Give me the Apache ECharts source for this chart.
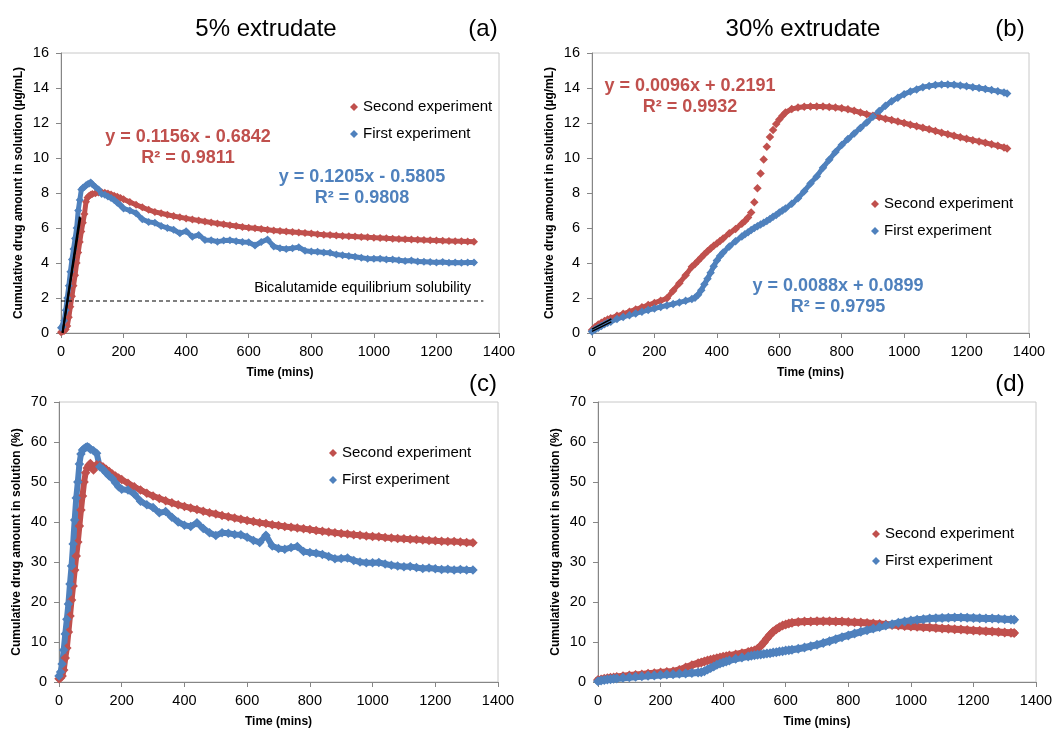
<!DOCTYPE html>
<html>
<head>
<meta charset="utf-8">
<script src="https://cdn.jsdelivr.net/npm/echarts@6/dist/echarts.min.js"></script>
<style>
  html, body { margin: 0; padding: 0; background: #fff; }
  #chart { width: 1060px; height: 729px; }
</style>
</head>
<body>
<div id="chart"></div>
<script>
// ---------- DATA ----------
// Time points (mins) for the 5% extrudate panels (a) and (c)
const timeA = [0,5,10,15,20,25,30,35,40,45,50,55,60,65,70,75,80,85,90,95,100,
  110,120,130,140,150,160,170,180,190,200,
  220,240,260,280,300,320,340,360,380,400,420,440,460,480,500,520,540,560,580,600,
  620,640,660,680,700,720,740,760,780,800,820,840,860,880,900,920,940,960,980,1000,
  1020,1040,1060,1080,1100,1120,1140,1160,1180,1200,1220,1240,1260,1280,1300,1320];

// Panel (a): cumulative drug amount (µg/mL)
const a_second = [0.05,0.08,0.12,0.2,0.4,0.9,1.5,2.1,2.7,3.3,4.0,4.6,5.2,5.8,6.3,6.8,7.5,7.75,7.85,7.9,7.95,
  7.98,8.03,8.05,8.02,7.97,7.91,7.85,7.79,7.72,7.64,
  7.48,7.33,7.18,7.04,6.92,6.84,6.76,6.68,6.61,6.55,6.49,6.43,6.37,6.31,6.26,6.21,6.16,6.11,6.06,6.02,
  5.98,5.94,5.9,5.86,5.83,5.8,5.77,5.74,5.71,5.68,5.65,5.62,5.6,5.57,5.55,5.53,5.51,5.49,5.47,5.45,
  5.43,5.41,5.39,5.37,5.36,5.34,5.33,5.31,5.3,5.29,5.27,5.26,5.25,5.24,5.23,5.21];
const a_first = [0.3,0.35,0.7,1.3,2.0,2.7,3.5,4.2,4.8,5.4,6.0,7.0,7.6,8.2,8.3,8.35,8.45,8.5,8.55,8.6,8.5,
  8.35,8.2,7.95,7.9,7.8,7.72,7.6,7.45,7.3,7.12,
  7.0,6.85,6.5,6.35,6.3,6.12,6.0,5.9,5.7,5.82,5.5,5.6,5.32,5.3,5.22,5.28,5.3,5.25,5.2,5.18,
  5.0,5.2,5.35,4.95,4.85,4.8,4.85,4.9,4.7,4.66,4.64,4.6,4.58,4.48,4.45,4.4,4.36,4.3,4.25,4.24,
  4.25,4.2,4.2,4.16,4.12,4.14,4.08,4.07,4.06,4.03,4.06,4.02,4.03,4.01,4.03,4.03];

// Panel (c): cumulative drug amount (%)
const c_second = [0.8,1.0,1.5,3.0,6.0,8.5,12.5,16.5,20.5,24.0,28.0,31.5,35.0,39.0,43.0,46.5,50.0,52.3,53.5,54.2,54.6,
  53.0,54.3,54.2,53.8,53.2,52.6,52.0,51.5,51.0,50.6,
  49.7,48.8,48.0,47.2,46.5,45.9,45.3,44.8,44.3,43.9,43.5,43.1,42.7,42.3,42.0,41.6,41.3,41.0,40.7,40.4,
  40.1,39.8,39.6,39.3,39.1,38.9,38.7,38.5,38.3,38.1,37.9,37.7,37.5,37.3,37.1,37.0,36.8,36.7,36.5,36.4,
  36.3,36.1,36.0,35.9,35.8,35.7,35.6,35.5,35.4,35.3,35.2,35.1,35.1,35.0,34.9,34.8];
const c_first = [1.5,2.5,4.5,8.0,12.0,15.7,19.5,24.5,29.0,34.5,40.5,46.0,50.0,54.5,57.0,58.0,58.3,58.6,58.8,58.6,58.2,
  57.8,57.2,53.8,53.2,52.3,51.5,50.9,49.8,48.8,48.2,
  48.0,47.0,45.2,44.3,43.6,42.3,42.6,41.2,40.0,39.2,38.9,39.8,38.4,37.3,36.6,37.3,37.2,36.9,36.8,36.2,
  35.4,34.9,36.7,34.0,33.4,33.2,33.6,33.9,32.6,32.4,32.2,31.9,31.4,30.8,30.9,31.0,30.4,30.0,29.8,29.8,
  29.9,29.5,29.2,29.0,28.8,28.9,28.6,28.4,28.5,28.3,28.1,28.2,28.0,28.1,28.0,28.0];

// Time points (mins) for the 30% extrudate panels (b) and (d)
const timeB = [0,10,20,30,40,50,60,
  80,100,120,140,160,180,200,220,240,260,280,300,320,
  330,340,350,360,370,380,390,400,410,420,
  440,460,480,
  490,500,510,520,530,540,550,560,570,580,590,600,610,620,
  640,660,680,700,720,740,760,780,800,820,840,860,880,900,920,940,960,980,1000,
  1020,1040,1060,1080,1100,1120,1140,1160,1180,1200,1220,1240,1260,1280,1300,1320,
  1330];

// Panel (b): cumulative drug amount (µg/mL)
const b_second = [0.17,0.35,0.48,0.58,0.68,0.77,0.85,
  0.98,1.1,1.22,1.35,1.47,1.6,1.72,1.85,1.98,2.42,2.85,3.3,3.78,
  3.95,4.13,4.32,4.5,4.67,4.83,4.98,5.12,5.26,5.4,
  5.7,5.95,6.25,
  6.4,6.6,6.88,7.47,8.27,9.12,9.92,10.65,11.2,11.6,11.94,12.2,12.42,12.6,
  12.8,12.88,12.93,12.95,12.95,12.94,12.92,12.88,12.84,12.78,12.7,12.6,12.5,12.42,12.34,12.25,12.17,12.08,12.0,
  11.9,11.82,11.73,11.64,11.55,11.45,11.36,11.27,11.18,11.1,11.02,10.95,10.87,10.78,10.7,10.6,
  10.55];
const b_first = [0.08,0.2,0.3,0.4,0.5,0.58,0.65,
  0.8,0.92,1.02,1.12,1.22,1.31,1.4,1.49,1.57,1.66,1.75,1.84,1.94,
  2.02,2.18,2.45,2.78,3.1,3.45,3.82,4.15,4.4,4.6,
  4.95,5.25,5.52,
  5.64,5.76,5.88,6.0,6.1,6.2,6.3,6.4,6.52,6.65,6.75,6.88,7.0,7.12,
  7.38,7.7,8.1,8.55,8.95,9.45,9.9,10.35,10.75,11.08,11.4,11.72,12.03,12.36,12.68,12.98,13.25,13.45,13.65,
  13.8,13.92,14.05,14.12,14.17,14.2,14.2,14.18,14.14,14.1,14.05,14.0,13.94,13.88,13.82,13.74,
  13.68];

// Panel (d): cumulative drug amount (%)
const d_second = [0.5,0.65,0.8,0.95,1.05,1.15,1.25,
  1.45,1.6,1.75,1.9,2.05,2.2,2.35,2.5,2.62,3.0,3.6,4.2,4.7,
  4.9,5.15,5.35,5.55,5.75,5.95,6.1,6.3,6.45,6.6,
  6.9,7.2,7.5,
  7.7,7.9,8.3,9.0,9.9,10.9,11.8,12.6,13.2,13.7,14.1,14.4,14.6,14.8,
  15.0,15.1,15.15,15.2,15.2,15.18,15.15,15.1,15.0,14.95,14.85,14.75,14.6,14.5,14.4,14.25,14.1,14.0,13.9,
  13.8,13.7,13.6,13.5,13.4,13.3,13.2,13.1,13.0,12.9,12.8,12.7,12.6,12.5,12.4,12.3,
  12.25];
const d_first = [0.2,0.35,0.5,0.6,0.7,0.8,0.9,
  1.05,1.2,1.3,1.45,1.55,1.65,1.75,1.85,1.95,2.05,2.15,2.25,2.35,
  2.45,2.7,3.1,3.5,3.9,4.3,4.6,4.9,5.15,5.4,
  5.8,6.1,6.4,
  6.55,6.7,6.8,6.9,7.0,7.1,7.2,7.35,7.45,7.6,7.7,7.85,7.95,8.05,
  8.3,8.6,8.95,9.3,9.75,10.2,10.7,11.2,11.65,12.1,12.55,12.95,13.35,13.75,14.1,14.45,14.8,15.1,15.35,
  15.55,15.7,15.85,15.95,16.0,16.05,16.1,16.1,16.05,16.0,15.95,15.9,15.85,15.8,15.7,15.6,
  15.55];

// Linear trendlines over the early points (end points)
const trendA_second = [[5, 0.0], [62, 6.6]];
const trendA_first  = [[5, 0.02], [60, 6.65]];
const trendB_second = [[0, 0.22], [62, 0.8]];
const trendB_first  = [[0, 0.09], [62, 0.64]];
// Bicalutamide equilibrium solubility (µg/mL), dashed reference line
const solubility = [[0, 1.83], [1350, 1.83]];

const xTicks = { min: 0, max: 1400, interval: 200 };
const seriesNames = ['Second experiment', 'First experiment'];
const eqTexts = {
  aSecond: ['y = 0.1156x - 0.6842', 'R\u00b2 = 0.9811'],
  aFirst:  ['y = 0.1205x - 0.5805', 'R\u00b2 = 0.9808'],
  bSecond: ['y = 0.0096x + 0.2191', 'R\u00b2 = 0.9932'],
  bFirst:  ['y = 0.0088x + 0.0899', 'R\u00b2 = 0.9795']
};

// ---------- CHART ----------
const RED = '#C0504D', BLUE = '#4F81BD';
const FONT = '"Liberation Sans", Arial, Helvetica, sans-serif';
const zip = (t, v) => t.map((x, i) => [x, v[i]]);

const grids = [
  { left: 61, top: 53, width: 438, height: 280 },
  { left: 592, top: 53, width: 437, height: 280 },
  { left: 59, top: 402, width: 439, height: 281 },
  { left: 598, top: 402, width: 438, height: 281 }
].map(g => Object.assign({ show: true, borderColor: '#c8c8c8', borderWidth: 1, backgroundColor: 'transparent' }, g));

function xAxis(i) {
  return {
    gridIndex: i, type: 'value', min: xTicks.min, max: xTicks.max, interval: xTicks.interval,
    name: 'Time (mins)', nameLocation: 'middle', nameGap: 34,
    nameTextStyle: { fontFamily: FONT, fontWeight: 'bold', fontSize: 12, color: '#000' },
    axisLine: { show: true, onZero: false, lineStyle: { color: '#868686', width: 1 } },
    axisTick: { show: true, length: 5, lineStyle: { color: '#868686' } },
    axisLabel: { fontFamily: FONT, fontSize: 14.5, color: '#000', margin: 11, formatter: v => String(v) },
    splitLine: { show: false }
  };
}
function yAxis(i, max, interval, name) {
  return {
    gridIndex: i, type: 'value', min: 0, max: max, interval: interval,
    name: name, nameLocation: 'middle', nameGap: 36,
    nameTextStyle: { fontFamily: FONT, fontWeight: 'bold', fontSize: 12, color: '#000' },
    axisLine: { show: true, onZero: false, lineStyle: { color: '#868686', width: 1 } },
    axisTick: { show: true, length: 5, lineStyle: { color: '#868686' } },
    axisLabel: { fontFamily: FONT, fontSize: 14.5, color: '#000', margin: 12, formatter: v => String(v) },
    splitLine: { show: false }
  };
}

function scatter(name, idx, data, color, size) {
  return {
    name: name, type: 'scatter', xAxisIndex: idx, yAxisIndex: idx, data: data,
    symbol: 'diamond', symbolSize: size, itemStyle: { color: color, opacity: 1 },
    silent: true, z: 2
  };
}
// thick band underneath the diamonds so the densely sampled runs read as one continuous trace
function band(idx, data, color, width) {
  return {
    name: '', type: 'line', xAxisIndex: idx, yAxisIndex: idx, data: data,
    symbol: 'none', connectNulls: false, smooth: false,
    lineStyle: { color: color, width: width, cap: 'round', join: 'round' },
    silent: true, z: 1
  };
}
function line(idx, data, color, width, type) {
  return {
    name: '', type: 'line', xAxisIndex: idx, yAxisIndex: idx, data: data,
    symbol: 'none', lineStyle: { color: color, width: width, type: type || 'solid' },
    silent: true, z: 3
  };
}

const aS = zip(timeA, a_second), aF = zip(timeA, a_first);
const bS = zip(timeB, b_second), bF = zip(timeB, b_first);
const cS = zip(timeA, c_second), cF = zip(timeA, c_first);
const dS = zip(timeB, d_second), dF = zip(timeB, d_first);
// in (b) the fast-rising section of the second experiment shows separate diamonds: no band there
const bSband = bS.map(p => (p[0] > 495 && p[0] < 605) ? [p[0], null] : p);

const series = [
  band(0, aS, RED, 5), band(0, aF, BLUE, 5),
  band(1, bSband, RED, 5), band(1, bF, BLUE, 5),
  band(2, cS, RED, 6), band(2, cF, BLUE, 6),
  band(3, dS, RED, 7), band(3, dF, BLUE, 7),
  scatter(seriesNames[0], 0, aS, RED, 8),
  scatter(seriesNames[1], 0, aF, BLUE, 8),
  scatter(seriesNames[0], 1, bS, RED, 8.5),
  scatter(seriesNames[1], 1, bF, BLUE, 8.5),
  scatter(seriesNames[0], 2, cS, RED, 9.5),
  scatter(seriesNames[1], 2, cF, BLUE, 9.5),
  scatter(seriesNames[0], 3, dS, RED, 10),
  scatter(seriesNames[1], 3, dF, BLUE, 10),
  line(0, trendA_second, '#000', 2),
  line(0, trendA_first, '#000', 2),
  line(1, trendB_second, '#000', 1.5),
  line(1, trendB_first, '#000', 1.5),
  line(0, solubility, '#000', 1.2, [4, 3])
];

function legend(left, top) {
  return {
    left: left, top: top, orient: 'vertical', padding: 0, itemGap: 12,
    icon: 'diamond', itemWidth: 8, itemHeight: 8, selectedMode: false,
    data: seriesNames,
    textStyle: { fontFamily: FONT, fontSize: 15, lineHeight: 15, color: '#000' }
  };
}

function txt(x, y, text, size, color, bold, align) {
  return {
    type: 'text', x: x, y: y, silent: true,
    style: {
      text: text, fill: color, align: align || 'center', verticalAlign: 'middle',
      font: (bold ? 'bold ' : '') + size + 'px ' + FONT
    }
  };
}

const graphic = [
  txt(266, 29, '5% extrudate', 24, '#000', false),
  txt(483, 29, '(a)', 24, '#000', false),
  txt(803, 29, '30% extrudate', 24, '#000', false),
  txt(1010, 29, '(b)', 24, '#000', false),
  txt(483, 384, '(c)', 24, '#000', false),
  txt(1010, 384, '(d)', 24, '#000', false),
  txt(188, 137, eqTexts.aSecond[0], 18, RED, true),
  txt(188, 158, eqTexts.aSecond[1], 18, RED, true),
  txt(362, 177, eqTexts.aFirst[0], 18, BLUE, true),
  txt(362, 198, eqTexts.aFirst[1], 18, BLUE, true),
  txt(690, 86, eqTexts.bSecond[0], 18, RED, true),
  txt(690, 107, eqTexts.bSecond[1], 18, RED, true),
  txt(838, 286, eqTexts.bFirst[0], 18, BLUE, true),
  txt(838, 307, eqTexts.bFirst[1], 18, BLUE, true),
  txt(471, 288, 'Bicalutamide equilibrium solubility', 14.5, '#000', false, 'right')
];

const option = {
  animation: false,
  backgroundColor: '#fff',
  grid: grids,
  xAxis: [xAxis(0), xAxis(1), xAxis(2), xAxis(3)],
  yAxis: [
    yAxis(0, 16, 2, 'Cumulative drug amount in solution (\u00b5g/mL)'),
    yAxis(1, 16, 2, 'Cumulative drug amount in solution (\u00b5g/mL)'),
    yAxis(2, 70, 10, 'Cumulative drug amount in solution (%)'),
    yAxis(3, 70, 10, 'Cumulative drug amount in solution (%)')
  ],
  legend: [legend(350, 99.5), legend(871, 196.5), legend(329, 445.5), legend(872, 526.5)],
  series: series,
  graphic: graphic
};

const chart = echarts.init(document.getElementById('chart'), null, { renderer: 'canvas' });
chart.setOption(option);
</script>
</body>
</html>
